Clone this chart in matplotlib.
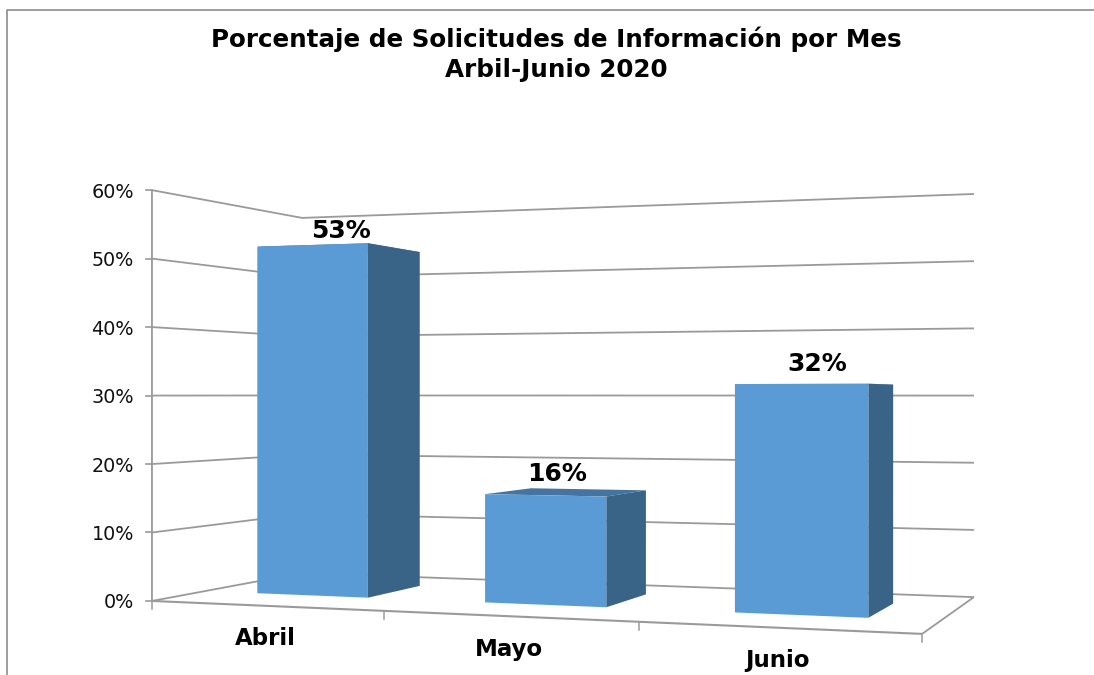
import numpy as np
import matplotlib
matplotlib.use("Agg")
import matplotlib.pyplot as plt
from matplotlib.patches import Polygon

plt.rcParams['font.family'] = ['DejaVu Sans']

# ---- data ----
categories = ["Abril", "Mayo", "Junio"]
values = [52.6, 15.7, 31.6]
value_labels = ["53%", "16%", "32%"]
y_ticks = [0, 10, 20, 30, 40, 50, 60]
title_lines = ["Porcentaje de Solicitudes de Información por Mes", "Arbil-Junio 2020"]

# ---- style ----
FRONT = "#5B9BD5"
SIDE = "#3A6487"
TOP = "#44749F"
GRID = "#9A9A9A"
BAR_W = 0.497
BAR_SHIFT = -0.008
Z0, Z1 = 0.32, 0.72
LABEL_NUDGE = [(-1, 0), (-12, 0), (-1, -2)]

# ---- 3D scene calibration: (cat, value, depth) -> pixel ----
world = [(0, 0, 0), (0, 60, 0), (0, 0, 1), (0, 60, 1), (3, 0, 1), (3, 60, 1), (3, 0, 0)]
pix = [(152, 601), (152, 190), (302, 573), (302, 218), (974, 597), (974, 194), (922, 634)]
A = []
for (X, Y, Z), (u, v) in zip(world, pix):
    A.append([X, Y, Z, 1, 0, 0, 0, 0, -u * X, -u * Y, -u * Z, -u])
    A.append([0, 0, 0, 0, X, Y, Z, 1, -v * X, -v * Y, -v * Z, -v])
P = np.linalg.svd(np.array(A, float))[2][-1].reshape(3, 4)


def proj(x, y, z):
    r = P @ np.array([x, y, z, 1.0])
    return r[0] / r[2], r[1] / r[2]


fig = plt.figure(figsize=(10.94, 6.75), dpi=100, facecolor="white")
ax = fig.add_axes([0, 0, 1, 1])
ax.set_xlim(0, 1094)
ax.set_ylim(675, 0)
ax.axis("off")


def line(a, b, lw=1.3, color=GRID, z=1):
    pa, pb = proj(*a), proj(*b)
    ax.plot([pa[0], pb[0]], [pa[1], pb[1]], color=color, lw=lw, zorder=z, solid_capstyle="butt")


# outer chart frame (left and top only)
ax.plot([6.5, 6.5, 1094], [675, 9.5, 9.5], color="#8C8C8C", lw=1.2, zorder=0)

ncat = len(categories)
ymax = y_ticks[-1]
for t in y_ticks:
    line((0, t, 0), (0, t, 1))
    line((0, t, 1), (ncat, t, 1))
    px, py = proj(0, t, 0)
    ax.plot([px - 6, px], [py, py], color=GRID, lw=1.2, zorder=1)
    ax.text(px - 18, py + 2, f"{t}%", ha="right", va="center", fontsize=13.8, color="#111111")

# floor and axes
line((0, 0, 0), (ncat, 0, 0), lw=1.5)
line((ncat, 0, 0), (ncat, 0, 1))
line((0, 0, 0), (0, ymax, 0))
for i in range(ncat + 1):
    px, py = proj(i, 0, 0)
    ax.plot([px, px], [py, py + 8], color=GRID, lw=1.1, zorder=1)

# bars
for i, (v, lab, cat) in enumerate(zip(values, value_labels, categories)):
    x0, x1 = i + 0.5 + BAR_SHIFT - BAR_W / 2, i + 0.5 + BAR_SHIFT + BAR_W / 2
    ax.add_patch(Polygon([proj(x0, v, Z0), proj(x1, v, Z0), proj(x1, v, Z1), proj(x0, v, Z1)],
                         closed=True, fc=TOP, ec="none", zorder=3))
    ax.add_patch(Polygon([proj(x1, 0, Z0), proj(x1, v, Z0), proj(x1, v, Z1), proj(x1, 0, Z1)],
                         closed=True, fc=SIDE, ec="none", zorder=3))
    ax.add_patch(Polygon([proj(x0, 0, Z0), proj(x1, 0, Z0), proj(x1, v, Z0), proj(x0, v, Z0)],
                         closed=True, fc=FRONT, ec="none", zorder=4))
    tx, ty = proj(i + 0.5, v, (Z0 + Z1) / 2)
    ax.text(tx + LABEL_NUDGE[i][0], ty - 18 + LABEL_NUDGE[i][1], lab, ha="center", va="center",
            fontsize=18, fontweight="bold", color="black", zorder=6)
    cx, cy = proj(i + 0.5, 0, 0)
    ax.text(cx, cy + 33, cat, ha="center", va="center", fontsize=16.5, fontweight="bold",
            color="black", zorder=6)

ax.text(556, 39, title_lines[0], ha="center", va="center", fontsize=17.7, fontweight="bold", color="black")
ax.text(556, 70, title_lines[1], ha="center", va="center", fontsize=17.7, fontweight="bold", color="black")

fig.savefig("out.png", dpi=100, facecolor="white")
